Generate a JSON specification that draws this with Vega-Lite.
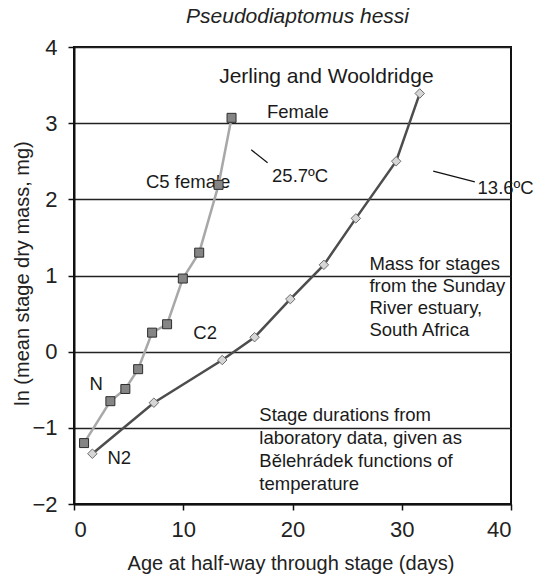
{
  "$schema": "https://vega.github.io/schema/vega-lite/v6.json",
  "autosize": {"type": "none"},
  "padding": {"left": 74, "top": 47, "right": 37, "bottom": 77},
  "width": 437,
  "height": 457,
  "background": "white",
  "title": {
    "text": "Pseudodiaptomus hessi",
    "font": "Liberation Sans",
    "fontStyle": "italic",
    "fontWeight": "normal",
    "fontSize": 21,
    "color": "#222222",
    "frame": "group",
    "anchor": "middle",
    "offset": 9,
    "dx": 5
  },
  "config": {
    "font": "Liberation Sans",
    "view": {"stroke": "#111111", "strokeWidth": 2},
    "axis": {
      "labelFont": "Liberation Sans",
      "titleFont": "Liberation Sans",
      "labelFontSize": 22,
      "labelColor": "#222222",
      "titleFontSize": 20,
      "titleFontWeight": "normal",
      "titleColor": "#222222",
      "domainColor": "#111111",
      "domainWidth": 2,
      "tickColor": "#111111",
      "tickWidth": 1.5,
      "tickSize": 6
    }
  },
  "datasets": {
    "series": [
      {"series": "25.7", "age": 0.92, "lnmass": -1.2},
      {"series": "25.7", "age": 3.33, "lnmass": -0.65},
      {"series": "25.7", "age": 4.7, "lnmass": -0.49},
      {"series": "25.7", "age": 5.87, "lnmass": -0.23},
      {"series": "25.7", "age": 7.15, "lnmass": 0.25},
      {"series": "25.7", "age": 8.52, "lnmass": 0.36},
      {"series": "25.7", "age": 9.96, "lnmass": 0.96},
      {"series": "25.7", "age": 11.46, "lnmass": 1.3},
      {"series": "25.7", "age": 13.23, "lnmass": 2.19},
      {"series": "25.7", "age": 14.42, "lnmass": 3.07},
      {"series": "13.6", "age": 1.68, "lnmass": -1.34},
      {"series": "13.6", "age": 7.31, "lnmass": -0.67},
      {"series": "13.6", "age": 13.57, "lnmass": -0.11},
      {"series": "13.6", "age": 16.53, "lnmass": 0.19},
      {"series": "13.6", "age": 19.8, "lnmass": 0.69},
      {"series": "13.6", "age": 22.87, "lnmass": 1.14},
      {"series": "13.6", "age": 25.8, "lnmass": 1.75},
      {"series": "13.6", "age": 29.49, "lnmass": 2.5},
      {"series": "13.6", "age": 31.65, "lnmass": 3.39}
    ],
    "centerNotes": [
      {"label": "Female", "age": 20.49, "lnmass": 3.15},
      {"label": "25.7ºC", "age": 20.7, "lnmass": 2.3},
      {"label": "C5 female", "age": 10.45, "lnmass": 2.23},
      {"label": "C2", "age": 12.0, "lnmass": 0.25},
      {"label": "N", "age": 2.03, "lnmass": -0.42},
      {"label": "N2", "age": 4.15, "lnmass": -1.39}
    ],
    "leftNotes": [
      {"label": "13.6ºC", "age": 36.94, "lnmass": 2.15},
      {"label": "Mass for stages", "age": 27.04, "lnmass": 1.156},
      {"label": "from the Sunday", "age": 27.04, "lnmass": 0.867},
      {"label": "River estuary,", "age": 27.04, "lnmass": 0.578},
      {"label": "South Africa", "age": 27.04, "lnmass": 0.289},
      {"label": "Stage durations from", "age": 16.96, "lnmass": -0.834},
      {"label": "laboratory data, given as", "age": 16.96, "lnmass": -1.137},
      {"label": "Bělehrádek functions of", "age": 16.96, "lnmass": -1.439},
      {"label": "temperature", "age": 16.96, "lnmass": -1.741}
    ],
    "heading": [
      {"label": "Jerling and Wooldridge", "age": 23.1, "lnmass": 3.61}
    ],
    "leaders": [
      {"age": 16.22, "lnmass": 2.65, "age2": 17.72, "lnmass2": 2.48},
      {"age": 32.88, "lnmass": 2.37, "age2": 36.69, "lnmass2": 2.23}
    ]
  },
  "layer": [
    {
      "data": {"name": "centerNotes"},
      "mark": {"type": "text", "fontSize": 18.5, "align": "center", "baseline": "middle", "color": "#1a1a1a"},
      "encoding": {
        "x": {
          "field": "age", "type": "quantitative",
          "scale": {"domain": [0, 40], "nice": false, "zero": false},
          "axis": {
            "values": [0, 10, 20, 30, 40],
            "format": "d",
            "grid": false,
            "labelPadding": 9,
            "title": "Age at half-way through stage (days)",
            "titleX": 216.5,
            "titleY": 59,
            "titleAlign": "center",
            "titleBaseline": "middle"
          }
        },
        "y": {
          "field": "lnmass", "type": "quantitative",
          "scale": {"domain": [-2, 4], "nice": false, "zero": false},
          "axis": {
            "values": [-2, -1, 0, 1, 2, 3, 4],
            "format": "d",
            "grid": true,
            "gridColor": "#222222",
            "gridWidth": 1.5,
            "gridOpacity": 1,
            "labelPadding": 11,
            "title": "ln (mean stage dry mass, mg)",
            "titleX": -52,
            "titleY": 226,
            "titleAngle": -90,
            "titleAlign": "center",
            "titleBaseline": "middle"
          }
        },
        "text": {"field": "label"}
      }
    },
    {
      "data": {"name": "leftNotes"},
      "mark": {"type": "text", "fontSize": 18.5, "align": "left", "baseline": "middle", "color": "#1a1a1a"},
      "encoding": {
        "x": {"field": "age", "type": "quantitative", "scale": {"domain": [0, 40], "nice": false, "zero": false}},
        "y": {"field": "lnmass", "type": "quantitative", "scale": {"domain": [-2, 4], "nice": false, "zero": false}},
        "text": {"field": "label"}
      }
    },
    {
      "data": {"name": "heading"},
      "mark": {"type": "text", "fontSize": 21, "align": "center", "baseline": "middle", "color": "#1a1a1a"},
      "encoding": {
        "x": {"field": "age", "type": "quantitative", "scale": {"domain": [0, 40], "nice": false, "zero": false}},
        "y": {"field": "lnmass", "type": "quantitative", "scale": {"domain": [-2, 4], "nice": false, "zero": false}},
        "text": {"field": "label"}
      }
    },
    {
      "data": {"name": "leaders"},
      "mark": {"type": "rule", "color": "#111111", "strokeWidth": 1.2},
      "encoding": {
        "x": {"field": "age", "type": "quantitative", "scale": {"domain": [0, 40], "nice": false, "zero": false}},
        "y": {"field": "lnmass", "type": "quantitative", "scale": {"domain": [-2, 4], "nice": false, "zero": false}},
        "x2": {"field": "age2"},
        "y2": {"field": "lnmass2"}
      }
    },
    {
      "data": {"name": "series"},
      "transform": [{"filter": "datum.series === '13.6'"}],
      "mark": {"type": "line", "color": "#4d4d4d", "strokeWidth": 2.5},
      "encoding": {
        "x": {"field": "age", "type": "quantitative", "scale": {"domain": [0, 40], "nice": false, "zero": false}},
        "y": {"field": "lnmass", "type": "quantitative", "scale": {"domain": [-2, 4], "nice": false, "zero": false}},
        "order": {"field": "age"}
      }
    },
    {
      "data": {"name": "series"},
      "transform": [{"filter": "datum.series === '25.7'"}],
      "mark": {"type": "line", "color": "#a8a8a8", "strokeWidth": 2.5},
      "encoding": {
        "x": {"field": "age", "type": "quantitative", "scale": {"domain": [0, 40], "nice": false, "zero": false}},
        "y": {"field": "lnmass", "type": "quantitative", "scale": {"domain": [-2, 4], "nice": false, "zero": false}},
        "order": {"field": "age"}
      }
    },
    {
      "data": {"name": "series"},
      "transform": [{"filter": "datum.series === '13.6'"}],
      "mark": {"type": "point", "shape": "diamond", "filled": true, "size": 90, "fill": "#d6d6d6", "stroke": "#6e6e6e", "strokeWidth": 1, "opacity": 1},
      "encoding": {
        "x": {"field": "age", "type": "quantitative", "scale": {"domain": [0, 40], "nice": false, "zero": false}},
        "y": {"field": "lnmass", "type": "quantitative", "scale": {"domain": [-2, 4], "nice": false, "zero": false}}
      }
    },
    {
      "data": {"name": "series"},
      "transform": [{"filter": "datum.series === '25.7'"}],
      "mark": {"type": "point", "shape": "square", "filled": true, "size": 81, "fill": "#858585", "stroke": "#2e2e2e", "strokeWidth": 1, "opacity": 1},
      "encoding": {
        "x": {"field": "age", "type": "quantitative", "scale": {"domain": [0, 40], "nice": false, "zero": false}},
        "y": {"field": "lnmass", "type": "quantitative", "scale": {"domain": [-2, 4], "nice": false, "zero": false}}
      }
    }
  ]
}
